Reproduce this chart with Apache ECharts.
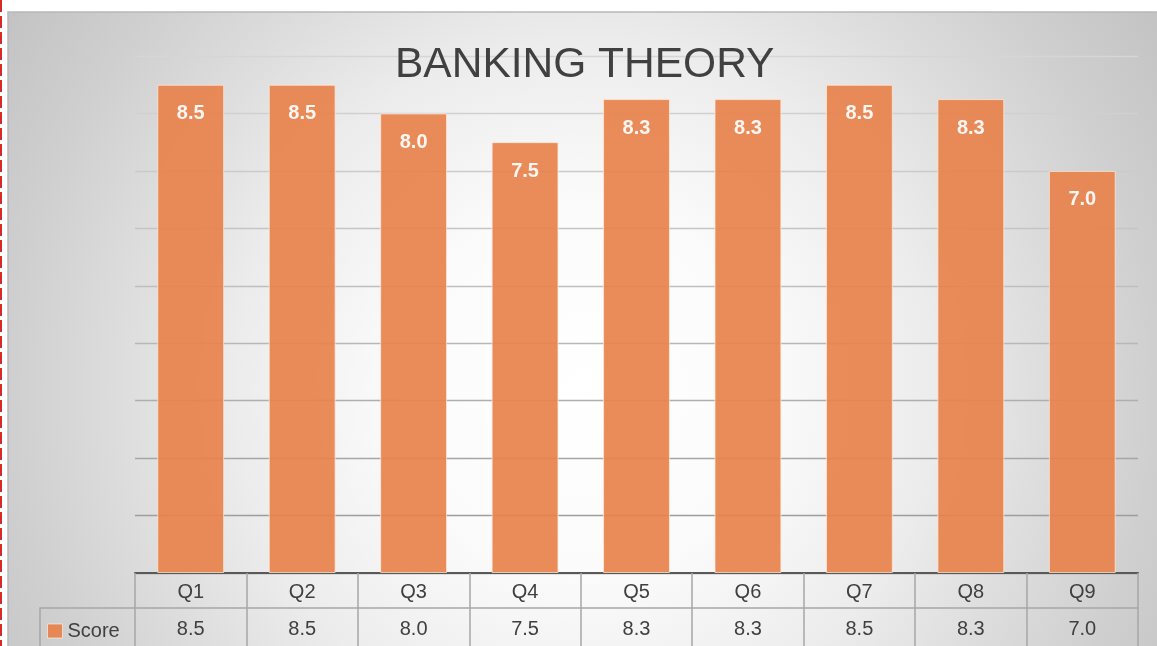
<!DOCTYPE html>
<html>
<head>
<meta charset="utf-8">
<script src="https://cdn.jsdelivr.net/npm/echarts@6/dist/echarts.min.js"></script>
<style>
  html, body { margin: 0; padding: 0; background: #ffffff; }
  #chart { width: 1157px; height: 646px; }
</style>
</head>
<body>
<div id="chart"></div>
<script>
const categories = ["Q1", "Q2", "Q3", "Q4", "Q5", "Q6", "Q7", "Q8", "Q9"];
const scores = [8.5, 8.5, 8.0, 7.5, 8.25, 8.25, 8.5, 8.25, 7.0];
const seriesName = "Score";
const chartTitle = "BANKING THEORY";

const fmt = (v) => Number(v).toFixed(1);
const textColor = "#404040";
const tableLine = "#a6a6a6";

const chart = echarts.init(document.getElementById("chart"));

chart.setOption({
  animation: false,
  title: {
    text: chartTitle,
    left: 390,
    top: 39,
    textStyle: { fontFamily: "Liberation Sans", fontSize: 42.5, fontWeight: "normal", color: textColor }
  },
  legend: {
    left: 42,
    top: 616,
    itemWidth: 15,
    itemHeight: 14,
    itemGap: 10,
    icon: "rect",
    itemStyle: { borderColor: "rgba(255,255,255,0.6)", borderWidth: 1 },
    textStyle: { fontFamily: "Liberation Sans", fontSize: 20, color: textColor },
    data: [seriesName]
  },
  grid: { left: 135, right: 19, top: 56, bottom: 73 },
  xAxis: [
    {
      type: "category",
      position: "bottom",
      data: categories,
      axisLine: { lineStyle: { color: "#595959", width: 2 } },
      axisTick: { show: true, length: 35, lineStyle: { color: tableLine, width: 1.5 } },
      axisLabel: { margin: 9, fontFamily: "Liberation Sans", fontSize: 20, color: textColor, interval: 0 }
    },
    {
      type: "category",
      position: "bottom",
      offset: 35,
      data: scores.map(fmt),
      axisLine: { lineStyle: { color: tableLine, width: 1.5 } },
      axisTick: { show: true, length: 40, lineStyle: { color: tableLine, width: 1.5 } },
      axisLabel: { margin: 11, fontFamily: "Liberation Sans", fontSize: 20, color: textColor, interval: 0 }
    }
  ],
  yAxis: {
    type: "value",
    min: 0,
    max: 9,
    interval: 1,
    axisLabel: { show: false },
    axisLine: { show: false },
    axisTick: { show: false },
    splitLine: {
      lineStyle: {
        width: 1.3,
        color: {
          type: "linear", x: 0, y: 56, x2: 0, y2: 573, global: true,
          colorStops: [
            { offset: 0, color: "#d6d6d6" },
            { offset: 0.5, color: "#bcbcbc" },
            { offset: 1, color: "#949494" }
          ]
        }
      }
    }
  },
  series: [
    {
      name: seriesName,
      type: "bar",
      xAxisIndex: 0,
      data: scores,
      barCategoryGap: "40%",
      itemStyle: { color: "#e8824c", opacity: 0.92, borderColor: "rgba(255,235,220,0.8)", borderWidth: 1 },
      label: {
        show: true,
        position: "insideTop",
        distance: 19,
        formatter: (p) => fmt(p.value),
        fontFamily: "Liberation Sans",
        fontSize: 20,
        fontWeight: "bold",
        color: "#ffffff"
      }
    }
  ],
  graphic: [
    {
      type: "rect",
      z: -10,
      silent: true,
      shape: { x: 8, y: 12, width: 1170, height: 660 },
      style: {
        stroke: "#b8b8b8",
        lineWidth: 1.5,
        fill: {
          type: "radial", x: 583, y: 390, r: 700, global: true,
          colorStops: [
            { offset: 0, color: "#ffffff" },
            { offset: 0.26, color: "#fbfbfb" },
            { offset: 0.5, color: "#ececec" },
            { offset: 0.64, color: "#dfdfdf" },
            { offset: 0.82, color: "#cfcfcf" },
            { offset: 0.97, color: "#c4c4c4" },
            { offset: 1, color: "#c2c2c2" }
          ]
        }
      }
    },
    {
      type: "polyline",
      silent: true,
      shape: { points: [[40, 660], [40, 608], [135, 608]] },
      style: { stroke: tableLine, lineWidth: 1.5, fill: null }
    },
    {
      type: "line",
      silent: true,
      shape: { x1: 1, y1: 0, x2: 1, y2: 646 },
      style: { stroke: "#d42a2a", lineWidth: 2, lineDash: [12, 4] }
    }
  ]
});
</script>
</body>
</html>
